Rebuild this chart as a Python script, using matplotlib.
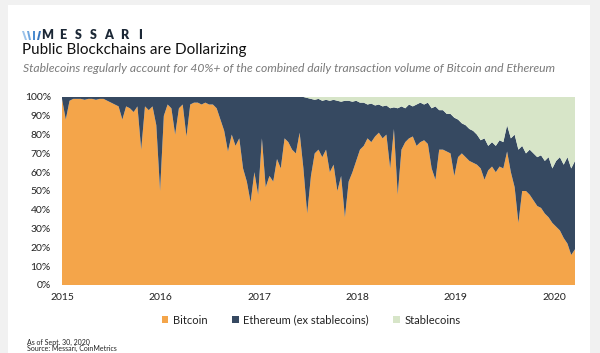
import numpy as np
import pandas as pd
import matplotlib
matplotlib.use('Agg')
import matplotlib.pyplot as plt
import matplotlib.dates as mdates
from matplotlib import patches

# share of combined daily transaction volume (%), one value every 14 days from Jan 2015
btc = [
    99, 88, 98, 99, 99, 99, 98.5, 99, 99, 98.5,
    99, 99, 98, 97, 96, 95, 88, 95, 94, 92,
    95, 72, 95, 93, 95, 85, 50, 90, 96, 94,
    80, 94, 96, 79, 96, 97, 97, 96, 97, 96,
    96, 94, 88, 82, 71, 80, 74, 78, 62, 55,
    44, 60, 48, 78, 52, 58, 55, 67, 62, 78,
    76, 72, 70, 81, 62, 38, 58, 70, 72, 68,
    72, 60, 64, 50, 58, 36, 55, 60, 66, 72,
    74, 78, 76, 79, 81, 78, 80, 62, 83, 48,
    72, 76, 78, 79, 74, 76, 77, 75, 62, 56,
    72, 72, 71, 70, 58, 68, 70, 68, 66, 65,
    64, 62, 56, 61, 63, 60, 63, 62, 71, 60,
    52, 33, 50, 50, 48, 45, 42, 41, 38, 36,
    33, 31, 29, 25, 22, 16, 19,
]
# bitcoin + ethereum (ex stablecoins); the rest up to 100% is stablecoins
btc_eth = [
    100, 100, 100, 100, 100, 100, 100, 100, 100, 100,
    100, 100, 100, 100, 100, 100, 100, 100, 100, 100,
    100, 100, 100, 100, 100, 100, 100, 100, 100, 100,
    100, 100, 100, 100, 100, 100, 100, 100, 100, 100,
    100, 100, 100, 100, 100, 100, 100, 100, 100, 100,
    100, 100, 100, 100, 100, 100, 100, 100, 100, 100,
    100, 100, 100, 100, 100, 99.5, 99, 98.5, 99, 98,
    98.5, 98, 98.5, 98, 97.5, 98, 98, 97.5, 98, 97,
    97, 96, 96.5, 95.5, 96, 95, 95.5, 94, 94.5, 94,
    95, 94, 96, 95, 96, 97, 96, 97, 94, 95,
    93, 93, 91, 91, 89, 88, 86, 85, 83, 82,
    80, 77, 78, 74, 76, 74, 77, 76, 85, 78,
    80, 72, 74, 70, 72, 70, 68, 69, 66, 68,
    62, 66, 68, 64, 68, 62, 66,
]
series_labels = ['Bitcoin', 'Ethereum (ex stablecoins)', 'Stablecoins']
series_colors = ['#F4A54A', '#364961', '#D7E5C8']

btc = np.array(btc)
btc_eth = np.array(btc_eth)
eth = btc_eth - btc
stable = 100 - btc_eth
dates = pd.date_range('2015-01-01', periods=len(btc), freq='14D')

plt.rcParams['font.family'] = ['Lato', 'DejaVu Sans']

W, H = 600, 353
fig = plt.figure(figsize=(6, 3.53), dpi=100)
fig.patch.set_facecolor('#f1f1f1')
card = patches.Rectangle((8 / W, 0), (590 - 8) / W, 1 - 5 / H, transform=fig.transFigure,
                         facecolor='white', edgecolor='none', zorder=-5)
fig.patches.append(card)

# logo
for k, xs in enumerate([25, 29, 33, 37]):
    lean = [3, 2, 0, -2][k]
    bar = patches.Polygon([((xs) / W, 1 - 40 / H), ((xs + 2) / W, 1 - 40 / H),
                           ((xs + 2 - lean) / W, 1 - 31 / H), ((xs - lean) / W, 1 - 31 / H)],
                          closed=True, transform=fig.transFigure, zorder=-4,
                          facecolor=['#9cc3ea', '#6fa6de', '#4a8bd0', '#3a78bf'][k], edgecolor='none')
    fig.patches.append(bar)
for k, ch in enumerate('MESSARI'):
    fig.text((47 + k * 15.5) / W, 1 - 35 / H, ch, fontsize=9, fontweight='heavy',
             color='#1c2836', ha='center', va='center')

fig.text(22 / W, 1 - 50 / H, 'Public Blockchains are Dollarizing', fontsize=11,
         color='#111111', va='center')
fig.text(23 / W, 1 - 68 / H,
         'Stablecoins regularly account for 40%+ of the combined daily transaction volume of Bitcoin and Ethereum',
         fontsize=8.7, style='italic', color='#7a7a7a', va='center')

ax = fig.add_axes([62 / W, 1 - 285 / H, (575 - 62) / W, (285 - 97) / H])
ax.stackplot(dates, btc, eth, stable, colors=series_colors, labels=series_labels, linewidth=0)
ax.set_ylim(0, 100)
ax.set_xlim(dates[0], dates[-1])
ax.set_yticks(range(0, 101, 10))
ax.set_yticklabels([f'{v}%' for v in range(0, 101, 10)])
ax.xaxis.set_major_locator(mdates.YearLocator())
ax.xaxis.set_major_formatter(mdates.DateFormatter('%Y'))
ax.tick_params(axis='both', length=0, labelsize=7.5, colors='#222222')
ax.tick_params(axis='y', pad=8)
ax.tick_params(axis='x', pad=6)
for s in ax.spines.values():
    s.set_visible(False)

fig.legend(*ax.get_legend_handles_labels(), loc='center', bbox_to_anchor=(311 / W, 1 - 320 / H),
           ncol=3, frameon=False, fontsize=8, handlelength=0.6, handleheight=0.6,
           handletextpad=0.4, columnspacing=2.2, labelcolor='#222222')

fig.text(27 / W, 1 - 342 / H, 'As of Sept. 30, 2020', fontsize=5, color='#222222', va='center')
fig.text(27 / W, 1 - 348.5 / H, 'Source: Messari, CoinMetrics', fontsize=5, color='#222222', va='center')

fig.savefig('out.png', dpi=100, facecolor=fig.get_facecolor())
